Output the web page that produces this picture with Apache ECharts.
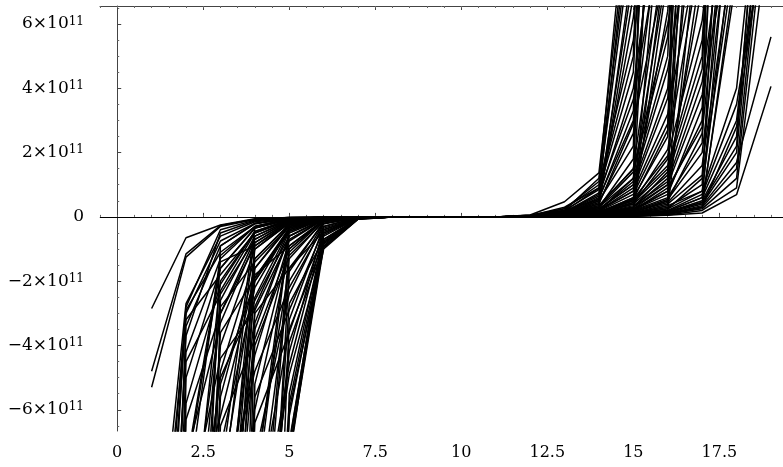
<!DOCTYPE html>
<html>
<head>
<meta charset="utf-8">
<title>Curves</title>
<script src="https://cdn.jsdelivr.net/npm/echarts@6.0.0/dist/echarts.min.js"></script>
<style>
  html, body { margin: 0; padding: 0; background: #fff; }
  #chart { width: 783px; height: 467px; }
</style>
</head>
<body>
<div id="chart"></div>
<script>
// x positions of the samples
const xValues = [1, 2, 3, 4, 5, 6, 7, 8, 9, 10, 11, 12, 13, 14, 15, 16, 17, 18, 19]

// values in units of 10^11 (off-scale values are rough)
// left part of each curve: x = 1..7
const leftBranches = [
  [-2.85, -0.65, -0.25, -0.06, -0.02, -0.01, 0],
  [-4.8, -1.15, -0.27, -0.07, -0.02, -0.01, 0],
  [-5.3, -1.25, -0.3, -0.08, -0.02, -0.01, 0],
  [-13, -2.7, -0.6, -0.15, -0.04, -0.01, 0],
  [-18, -3.0, -0.75, -0.2, -0.05, -0.01, 0],
  [-30, -3.4, -0.9, -0.22, -0.05, -0.01, 0],
  [-22, -4.2, -1.3, -0.3, -0.06, -0.01, 0],
  [-50, -5.0, -1.6, -0.35, -0.07, -0.02, 0],
  [-16, -2.8, -0.4, -0.1, -0.03, -0.01, 0],
  [-40, -5.8, -2.1, -0.45, -0.08, -0.02, 0],
  [-25, -3.7, -0.5, -0.12, -0.03, -0.01, 0],
  [-20, -2.9, -1.1, -0.3, -0.06, -0.01, 0],
  [-35, -4.5, -2.4, -0.7, -0.12, -0.02, 0],
  [-14, -3.2, -1.8, -0.5, -0.1, -0.02, 0],
  [-60, -6.3, -3.0, -0.9, -0.15, -0.03, 0],
  [-300, -9, -1.2, -0.3, -0.07, -0.02, 0],
  [-400, -12, -2.0, -0.45, -0.1, -0.02, 0],
  [-500, -40, -2.6, -0.6, -0.12, -0.02, 0],
  [-350, -7.5, -3.3, -0.8, -0.15, -0.03, 0],
  [-600, -20, -4.0, -1.0, -0.2, -0.03, 0],
  [-450, -15, -4.8, -1.3, -0.25, -0.04, 0],
  [-700, -30, -5.6, -1.6, -0.3, -0.04, 0],
  [-380, -8, -1.6, -0.35, -0.08, -0.02, 0],
  [-550, -10, -6.2, -1.9, -0.35, -0.05, 0],
  [-420, -25, -0.9, -0.2, -0.05, -0.01, 0],
  [-650, -11, -3.0, -0.7, -0.14, -0.03, 0],
  [-480, -18, -2.3, -0.5, -0.11, -0.02, 0],
  [-520, -13, -5.0, -2.6, -0.6, -0.08, -0.01],
  [-410, -22, -3.6, -1.9, -0.4, -0.05, 0],
  [-620, -9.5, -4.4, -2.9, -0.7, -0.08, -0.01],
  [-330, -35, -6.5, -3.8, -1.0, -0.1, -0.01],
  [-560, -14, -2.8, -1.4, -0.3, -0.04, 0],
  [-470, -7.8, -1.4, -0.9, -0.2, -0.03, 0],
  [-390, -28, -5.2, -2.0, -0.45, -0.06, 0],
  [-5000, -300, -9, -0.6, -0.12, -0.03, 0],
  [-6000, -400, -12, -1.0, -0.18, -0.03, 0],
  [-7000, -500, -20, -1.6, -0.25, -0.04, 0],
  [-5500, -350, -7.2, -2.2, -0.35, -0.05, 0],
  [-8000, -600, -30, -2.8, -0.45, -0.06, 0],
  [-6500, -450, -15, -3.5, -0.6, -0.07, 0],
  [-9000, -700, -10, -4.3, -0.75, -0.08, 0],
  [-7500, -550, -50, -5.2, -0.9, -0.09, 0],
  [-6200, -420, -8, -0.35, -0.08, -0.02, 0],
  [-8500, -650, -25, -6.0, -1.1, -0.1, -0.01],
  [-5800, -380, -14, -1.3, -0.22, -0.04, 0],
  [-7200, -520, -11, -2.5, -0.4, -0.05, 0],
  [-6800, -480, -18, -0.8, -0.15, -0.03, 0],
  [-6600, -460, -9.5, -4.8, -2.2, -0.3, -0.02],
  [-7800, -590, -13, -3.0, -1.6, -0.2, -0.02],
  [-5300, -330, -22, -5.6, -2.9, -0.4, -0.03],
  [-8200, -610, -8.5, -1.8, -0.9, -0.12, -0.01],
  [-6900, -500, -35, -6.4, -3.6, -0.5, -0.03],
  [-7300, -530, -16, -4.0, -1.2, -0.15, -0.01],
  [-5900, -400, -11, -2.0, -0.35, -0.04, 0],
  [-8800, -680, -40, -3.3, -0.6, -0.06, 0],
  [-100000, -8000, -500, -9, -0.5, -0.06, 0],
  [-120000, -9000, -600, -13, -1.0, -0.1, -0.01],
  [-110000, -8500, -550, -20, -1.7, -0.15, -0.01],
  [-90000, -7000, -450, -7.5, -2.4, -0.22, -0.02],
  [-150000, -10000, -800, -30, -3.2, -0.3, -0.02],
  [-130000, -9500, -650, -16, -3.9, -0.9, -0.03],
  [-100000, -7500, -520, -11, -4.6, -0.5, -0.03],
  [-160000, -11000, -900, -45, -5.5, -0.6, -0.04],
  [-95000, -7200, -480, -8.5, -0.3, -0.05, -0.01],
  [-115000, -8800, -580, -14, -1.3, -0.12, -0.01],
  [-140000, -10000, -750, -25, -6.2, -0.8, -0.05],
  [-105000, -7800, -530, -10, -2.0, -0.2, -0.02],
  [-120000, -9000, -620, -12, -4.9, -0.95, -0.06],
  [-98000, -7300, -500, -9.5, -3.5, -0.8, -0.05],
  [-135000, -9800, -700, -18, -2.7, -0.7, -0.05],
  [-145000, -10500, -780, -40, -6.0, -1.0, -0.07],
  [-108000, -8100, -560, -22, -5.8, -0.75, -0.05],
  [-125000, -9200, -640, -8, -1.6, -0.45, -0.04],
  [-112000, -8400, -590, -15, -4.2, -0.35, -0.03],
  [-1000000, -80000, -6000, -400, -7.3, -0.85, -0.06],
  [-900000, -70000, -5500, -350, -7.0, -0.7, -0.05],
  [-1100000, -90000, -6500, -450, -7.6, -0.4, -0.04],
  [-950000, -75000, -5800, -380, -7.1, -0.55, -0.04],
  [-1050000, -85000, -6200, -420, -7.4, -0.95, -0.07]
]

// flat middle part: x = 8..11
const midValues = [0, 0, 0, 0]

// right part of each curve: x = 12..19
const rightBranches = [
  [0.06, 0.47, 1.37, 10.7, 80, 500, 3000, 20000],
  [0.04, 0.3, 0.9, 9, 70, 450, 2800, 18000],
  [0.03, 0.2, 0.55, 7.5, 60, 400, 2500, 16000],
  [0.02, 0.15, 0.7, 10.5, 90, 550, 3200, 21000],
  [0.02, 0.1, 0.4, 6.9, 55, 380, 2400, 15000],
  [0.03, 0.25, 1.1, 12, 85, 520, 3100, 20000],
  [0.02, 0.12, 0.3, 8, 65, 420, 2600, 17000],
  [0.03, 0.2, 1.2, 9.5, 95, 600, 3500, 22000],
  [0.01, 0.03, 0.1, 0.3, 12, 90, 600, 4000],
  [0.02, 0.06, 0.2, 0.8, 20, 150, 900, 6000],
  [0.02, 0.08, 0.35, 1.5, 9, 70, 500, 3500],
  [0.03, 0.1, 0.5, 2.2, 30, 200, 1200, 8000],
  [0.03, 0.12, 0.6, 3.0, 15, 110, 700, 5000],
  [0.04, 0.15, 0.75, 3.65, 10, 80, 550, 3800],
  [0.05, 0.2, 0.85, 4.5, 25, 170, 1000, 7000],
  [0.05, 0.25, 1.0, 5.5, 14, 100, 650, 4500],
  [0.01, 0.04, 0.15, 0.5, 8.5, 65, 450, 3200],
  [0.02, 0.05, 0.25, 1.0, 40, 260, 1500, 9000],
  [0.03, 0.1, 0.45, 2.6, 11, 85, 580, 4000],
  [0.02, 0.07, 0.3, 1.8, 18, 130, 800, 5500],
  [0.01, 0.02, 0.08, 0.2, 7.5, 60, 420, 3000],
  [0.02, 0.09, 0.4, 2.9, 8, 60, 430, 3000],
  [0.03, 0.14, 0.65, 4.0, 12, 95, 600, 4200],
  [0.04, 0.18, 0.9, 5.0, 35, 230, 1400, 8500],
  [0.01, 0.05, 0.2, 1.2, 7.8, 62, 440, 3100],
  [0.02, 0.08, 0.5, 6.2, 16, 120, 750, 5200],
  [0.03, 0.11, 0.55, 3.3, 22, 160, 950, 6500],
  [0, 0.01, 0.03, 0.08, 0.2, 10, 80, 550],
  [0.01, 0.02, 0.05, 0.15, 0.5, 15, 110, 750],
  [0.01, 0.03, 0.08, 0.25, 1.0, 25, 170, 1100],
  [0.01, 0.04, 0.1, 0.4, 1.8, 12, 90, 600],
  [0.02, 0.05, 0.15, 0.6, 2.5, 40, 260, 1700],
  [0.02, 0.06, 0.2, 0.8, 3.2, 9, 70, 480],
  [0.02, 0.07, 0.25, 1.0, 4.0, 20, 140, 900],
  [0.03, 0.08, 0.3, 1.2, 5.0, 30, 200, 1300],
  [0.03, 0.1, 0.35, 1.5, 6.0, 12, 95, 650],
  [0.01, 0.02, 0.06, 0.2, 0.8, 8, 65, 450],
  [0.01, 0.03, 0.09, 0.3, 1.4, 18, 125, 850],
  [0.02, 0.05, 0.18, 0.7, 2.9, 14, 100, 700],
  [0, 0.01, 0.04, 0.1, 0.35, 50, 320, 2000],
  [0.01, 0.03, 0.1, 0.45, 2.1, 8.5, 68, 470],
  [0.02, 0.05, 0.2, 0.9, 3.7, 16, 115, 780],
  [0.02, 0.06, 0.22, 1.1, 4.6, 11, 85, 580],
  [0.03, 0.09, 0.3, 1.4, 5.6, 22, 150, 1000],
  [0.01, 0.02, 0.07, 0.3, 1.2, 7.2, 60, 420],
  [0.02, 0.04, 0.12, 0.55, 2.7, 35, 230, 1500],
  [0.01, 0.03, 0.12, 0.6, 6.4, 19, 135, 900],
  [0, 0.01, 0.02, 0.05, 0.1, 0.3, 8, 60],
  [0, 0.01, 0.03, 0.07, 0.18, 0.6, 12, 90],
  [0.01, 0.02, 0.04, 0.1, 0.3, 1.0, 20, 140],
  [0.01, 0.02, 0.05, 0.15, 0.45, 1.6, 9, 70],
  [0.01, 0.03, 0.07, 0.2, 0.6, 2.3, 30, 200],
  [0.01, 0.03, 0.08, 0.25, 0.8, 3.0, 15, 110],
  [0.02, 0.04, 0.1, 0.3, 1.0, 3.8, 10, 75],
  [0.02, 0.05, 0.12, 0.4, 1.3, 4.6, 25, 170],
  [0.02, 0.06, 0.15, 0.5, 1.6, 5.5, 18, 130],
  [0, 0.01, 0.02, 0.06, 0.15, 0.45, 7.5, 55],
  [0.01, 0.02, 0.06, 0.18, 0.55, 2.0, 11, 80],
  [0.01, 0.02, 0.05, 0.12, 0.4, 1.3, 14, 100],
  [0, 0.01, 0.03, 0.08, 0.25, 1.2, 8.5, 65],
  [0.01, 0.02, 0.05, 0.14, 0.5, 2.6, 13, 95],
  [0.01, 0.03, 0.08, 0.22, 0.7, 3.4, 22, 160],
  [0.02, 0.04, 0.1, 0.35, 1.1, 4.2, 12, 88],
  [0.02, 0.05, 0.14, 0.45, 1.5, 5.0, 28, 190],
  [0.02, 0.06, 0.16, 0.55, 1.9, 6.1, 16, 120],
  [0.01, 0.02, 0.04, 0.1, 0.35, 0.8, 9.5, 72],
  [0.01, 0.03, 0.07, 0.2, 0.9, 2.8, 40, 260],
  [0, 0, 0.01, 0.02, 0.05, 0.12, 0.69, 4.06],
  [0, 0.01, 0.02, 0.04, 0.1, 0.35, 1.69, 5.6],
  [0, 0.01, 0.02, 0.05, 0.15, 0.5, 2.5, 15],
  [0, 0.01, 0.03, 0.07, 0.2, 0.7, 3.5, 10],
  [0, 0, 0.01, 0.03, 0.08, 0.25, 1.2, 11],
  [0, 0, 0.01, 0.02, 0.06, 0.2, 0.9, 9.5],
  [0, 0.01, 0.02, 0.05, 0.12, 0.4, 2.0, 13],
  [0, 0.01, 0.03, 0.06, 0.18, 0.6, 3.0, 12],
  [0, 0.01, 0.02, 0.04, 0.1, 0.3, 1.5, 12],
  [0, 0.01, 0.02, 0.06, 0.15, 0.45, 2.2, 16],
  [0, 0, 0.01, 0.03, 0.09, 0.3, 2.8, 10.5],
  [0, 0.01, 0.03, 0.08, 0.25, 0.8, 4.0, 14]
]

// tick positions
const xMajorTicks = [0, 2.5, 5, 7.5, 10, 12.5, 15, 17.5]
const yMajorTicks = [-6, -4, -2, 0, 2, 4, 6]
const yMinorTicks = [-6.5, -5.5, -5, -4.5, -3.5, -3, -2.5, -1.5, -1, -0.5,
  0.5, 1, 1.5, 2.5, 3, 3.5, 4.5, 5, 5.5, 6.5]

const X_MIN = -0.5
const X_MAX = 19.35
const Y_MIN = -6.66
const Y_MAX = 6.56
const FONT = 'DejaVu Serif'

const chart = echarts.init(document.getElementById('chart'))

// build one line series per curve
const series = leftBranches.map((left, i) => {
  const vals = left.concat(midValues, rightBranches[i])
  return {
    type: 'line',
    xAxisIndex: 0,
    yAxisIndex: 0,
    data: xValues.map((x, j) => [x, vals[j]]),
    symbol: 'none',
    silent: true,
    clip: true,
    lineStyle: { color: '#000', width: 1.5 }
  }
})

// the zero line
series[0].markLine = {
  silent: true,
  symbol: 'none',
  label: { show: false },
  lineStyle: { color: '#000', width: 1, type: 'solid' },
  data: [{ yAxis: 0 }]
}

const majorX = (pos, lineColor, labels) => ({
  type: 'value',
  position: pos,
  min: X_MIN,
  max: X_MAX,
  axisLine: { show: true, lineStyle: { color: lineColor, width: 1 } },
  axisTick: { show: true, inside: true, length: 4, customValues: xMajorTicks, lineStyle: { color: '#444' } },
  axisLabel: labels
    ? { show: true, customValues: xMajorTicks, color: '#000', fontFamily: FONT, fontSize: 16, margin: 14,
        formatter: (v) => String(v) }
    : { show: false },
  splitLine: { show: false }
})

const minorX = (pos) => ({
  type: 'value',
  position: pos,
  min: X_MIN,
  max: X_MAX,
  interval: 0.5,
  axisLine: { show: false },
  axisTick: { show: true, inside: true, length: 2, lineStyle: { color: '#666' } },
  axisLabel: { show: false },
  splitLine: { show: false }
})

const option = {
  animation: false,
  backgroundColor: '#fff',
  grid: { left: 100, right: 0, top: 6, bottom: 36, containLabel: false },
  xAxis: [majorX('bottom', '#9a9a9a', true), minorX('bottom'), majorX('top', '#444', false), minorX('top')],
  yAxis: [
    {
      type: 'value',
      position: 'left',
      min: Y_MIN,
      max: Y_MAX,
      axisLine: { show: true, lineStyle: { color: '#444', width: 1 } },
      axisTick: { show: true, inside: true, length: 4, customValues: yMajorTicks, lineStyle: { color: '#444' } },
      axisLabel: {
        show: true,
        customValues: yMajorTicks,
        margin: 16,
        formatter: (v) => {
          if (v === 0) return '{n|0}'
          return '{n|' + (v < 0 ? '\u2212' : '') + Math.abs(v) + '\u00d710}{e|11}'
        },
        rich: {
          n: { fontFamily: FONT, fontSize: 17, lineHeight: 17, color: '#000' },
          e: { fontFamily: FONT, fontSize: 12, lineHeight: 12, color: '#000', verticalAlign: 'top' }
        }
      },
      splitLine: { show: false }
    },
    {
      type: 'value',
      position: 'left',
      min: Y_MIN,
      max: Y_MAX,
      axisLine: { show: false },
      axisTick: { show: true, inside: true, length: 2, customValues: yMinorTicks, lineStyle: { color: '#666' } },
      axisLabel: { show: false },
      splitLine: { show: false }
    }
  ],
  series: series
}

chart.setOption(option)
</script>
</body>
</html>
